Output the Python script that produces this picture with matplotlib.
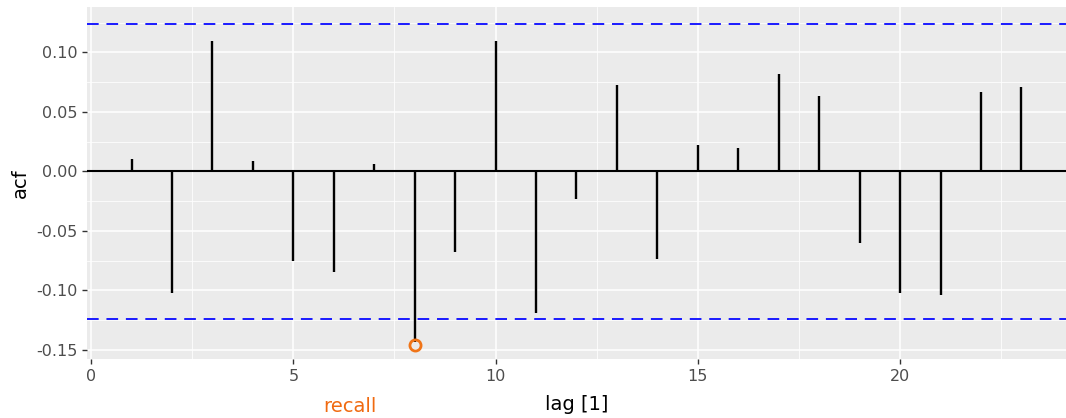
import numpy as np
import matplotlib
matplotlib.use("Agg")
from matplotlib import pyplot as plt
from matplotlib.ticker import MultipleLocator

# autocorrelations, lags 1..23
lags = list(range(1, 24))
acf = [0.0108, -0.1024, 0.1094, 0.0086, -0.0755, -0.0849, 0.0064, -0.1433,
       -0.0679, 0.1098, -0.1193, -0.0232, 0.0726, -0.0732, 0.0226, 0.0201,
       0.0816, 0.0637, -0.0604, -0.1018, -0.1035, 0.0670, 0.0708]
conf_bound = 0.124
x_ticks = [0, 5, 10, 15, 20]
y_ticks = [-0.15, -0.10, -0.05, 0.00, 0.05, 0.10]
circled_lag = 8

fig = plt.figure(figsize=(10.66, 4.18), dpi=100)
ax = fig.add_axes([87 / 1066, 1 - 359 / 418, (1066 - 87) / 1066, (359 - 7) / 418])
ax.set_facecolor("#ebebeb")

# ggplot-like grid
ax.set_xticks(x_ticks)
ax.set_yticks(y_ticks)
ax.xaxis.set_minor_locator(MultipleLocator(2.5))
ax.yaxis.set_minor_locator(MultipleLocator(0.025))
ax.grid(which="major", color="white", linewidth=1.1)
ax.grid(which="minor", color="white", linewidth=0.55)
ax.set_axisbelow(True)
for s in ax.spines.values():
    s.set_visible(False)

ax.axhline(0, color="black", linewidth=1.5, zorder=3)
ax.vlines(lags, 0, acf, color="black", linewidth=1.7, zorder=3)
ax.axhline(conf_bound, color="#1a1aff", linewidth=1.4, linestyle=(0, (6, 4)), zorder=3)
ax.axhline(-conf_bound, color="#1a1aff", linewidth=1.4, linestyle=(0, (6, 4)), zorder=3)

ax.set_xlim(-0.1, 24.1)
ax.set_ylim(-0.1576, 0.1382)
ax.set_yticklabels(["-0.15", "-0.10", "-0.05", "0.00", "0.05", "0.10"])

ax.tick_params(which="major", colors="#333333", labelcolor="#4d4d4d",
               labelsize=11.5, length=3.5, width=1)
ax.tick_params(which="minor", length=0)
ax.set_xlabel("lag [1]", fontsize=14, color="black", va="center")
ax.xaxis.set_label_coords(0.5, -46 / 352)
ax.set_ylabel("acf", fontsize=14, color="black", va="center")
ax.yaxis.set_label_coords(-67 / 979, 0.5)

# handwritten annotations
ax.plot([circled_lag + 0.02], [acf[circled_lag - 1] - 0.0025], marker="o",
        markersize=8, markerfacecolor="none", markeredgecolor="#f07417",
        markeredgewidth=2, zorder=4, clip_on=False)
fig.text(350 / 1066, 1 - 407 / 418, "recall", color="#f06a10",
         fontsize=14, ha="center", va="center")

fig.savefig("out.png", dpi=100)
